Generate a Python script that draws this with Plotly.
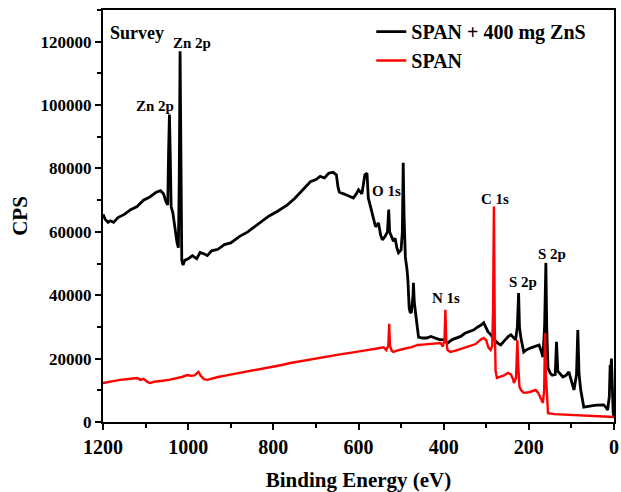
import plotly.graph_objects as go

# ---- data (binding energy in eV, intensity in CPS) ----
zns_be = [1200, 1195, 1188, 1183, 1175, 1165, 1150, 1135, 1120, 1105, 1090, 1075, 1065, 1058,
          1052, 1048, 1046, 1044, 1042, 1040, 1036, 1030, 1026, 1023, 1021, 1019, 1017, 1015,
          1012, 1008, 1000, 990, 980, 972, 962, 955, 945, 930, 915, 900, 880, 860, 847, 830,
          810, 790, 767, 750, 730, 713, 700, 690, 680, 670, 660, 652, 648, 645, 635, 625, 612,
          605, 600, 592, 585, 580, 577, 570, 560, 553, 548, 544, 538, 532, 529, 527, 523, 518,
          514, 510, 506, 500, 497, 495, 493, 490, 486, 484, 481, 479, 476, 472, 471, 469, 466,
          462, 459, 450, 440, 430, 420, 410, 400, 391, 380, 370, 360, 350, 340, 330, 320, 313,
          306, 300, 296, 289, 280, 273, 266, 255, 248, 242, 236, 231, 227, 224, 222, 219, 212,
          205, 195, 185, 176, 170, 167, 163, 160, 158, 155, 150, 145, 138, 135, 132, 128, 120,
          112, 106, 100, 94, 88, 85, 82, 78, 71, 60, 50, 40, 30, 24, 18, 15, 11, 9, 8, 6, 4, 2, 0]
zns_cps = [65500, 64000, 63000, 63500, 63000, 64500, 65500, 67000, 68000, 70000, 71000, 72500,
           73000, 72000, 69500, 68500, 85000, 97000, 84000, 68000, 66000, 60000, 56500, 55000,
           75800, 117000, 60000, 51000, 49500, 51000, 51500, 52500, 51500, 53500, 53000, 52500,
           54000, 54500, 56000, 56500, 58500, 60000, 61300, 63000, 65000, 66500, 68500, 70500,
           73500, 75800, 76500, 77500, 77000, 78500, 78800, 78000, 74000, 72500, 72000, 71500,
           70700, 72000, 73300, 72000, 78000, 78500, 70700, 67000, 61600, 62800, 59000, 57500,
           58500, 60000, 67000, 60000, 58400, 57000, 58000, 55000, 53400, 54300, 60000, 81800,
           65000, 52100, 48000, 44800, 36000, 34700, 34400, 40000, 43900, 38000, 34400, 30000,
           26800, 26500, 26500, 27000, 26500, 26000, 26000, 24900, 26000, 26500, 27000, 28000,
           28500, 29000, 30000, 30500, 31300, 29500, 28500, 27500, 25800, 24900, 24300, 26000,
           27000, 27500, 26500, 25900, 30000, 40700, 30000, 26800, 22100, 22800, 23400, 23800,
           24300, 22000, 20500, 30000, 50200, 30000, 17000, 15500, 14800, 15000, 25300, 16000,
           15500, 14200, 14800, 15800, 13000, 10100, 15000, 29000, 15000, 10000, 4700, 5000,
           5200, 5300, 5500, 5400, 4500, 3800, 8000, 18000, 15000, 20000, 10000, 3000, 1600]

span_be = [1200, 1190, 1175, 1160, 1145, 1130, 1120, 1112, 1105, 1095, 1089, 1080, 1070, 1060,
           1045, 1030, 1015, 1002, 995, 985, 980, 976, 970, 963, 955, 945, 930, 910, 890, 870,
           850, 830, 814, 800, 780, 760, 740, 720, 700, 680, 660, 640, 620, 602, 580, 560, 545,
           541, 535, 530, 528, 526, 522, 518, 510, 500, 490, 475, 461, 450, 440, 430, 420, 410,
           407, 402, 398, 396, 394, 391, 384, 370, 355, 340, 325, 313, 306, 300, 295, 290, 286,
           284, 282, 280, 278, 275, 266, 258, 249, 242, 237, 235, 230, 227, 225, 222, 218, 212,
           200, 190, 184, 178, 172, 167, 164, 162, 160, 157, 155, 140, 120, 100, 78, 50, 20, 0]
span_cps = [12300, 12600, 13000, 13300, 13500, 13800, 13900, 13300, 13600, 12600, 12300, 12700,
            12800, 13000, 13300, 13700, 14200, 14800, 14600, 14700, 15500, 15800, 14500, 13500,
            13300, 13700, 14200, 14700, 15200, 15600, 16200, 16700, 17100, 17400, 18000, 18600,
            19100, 19600, 20100, 20600, 21000, 21400, 21800, 22100, 22700, 23100, 23400, 23600,
            22700, 24000, 31000, 24000, 22500, 22100, 22500, 22900, 23200, 23600, 24300, 24400,
            24500, 24700, 24800, 25000, 24900, 23800, 26000, 35400, 26000, 22700, 22100, 22600,
            23200, 23800, 24600, 26000, 26500, 25800, 23500, 22700, 24000, 35000, 68000, 30000,
            16000, 13900, 14200, 14700, 15500, 15000, 13500, 12300, 14000, 25900, 18000, 11100,
            10000, 9200, 9400, 9800, 10100, 9200, 7500, 6000, 10000, 28100, 15000, 4000, 2800,
            2500, 2400, 2300, 2200, 2000, 1800, 1600]

series_names = ["SPAN + 400 mg ZnS", "SPAN"]
series_colors = ["#000000", "#ff0000"]

peak_labels = ["Survey", "Zn 2p", "Zn 2p", "O 1s", "C 1s", "N 1s", "S 2p", "S 2p"]
label_be = [1120, 991, 1078, 534, 280, 395, 214, 146]
label_cps = [122800, 119700, 99800, 72900, 70400, 39200, 44200, 53100]
label_sizes = [18, 15, 15, 15, 15, 15, 15, 15]

x_ticks = [1200, 1000, 800, 600, 400, 200, 0]
y_ticks = [0, 20000, 40000, 60000, 80000, 100000, 120000]

FONT = "Liberation Serif"

fig = go.Figure()
fig.add_trace(go.Scatter(x=zns_be, y=zns_cps, mode="lines", name=series_names[0],
                         line=dict(color=series_colors[0], width=2.8)))
fig.add_trace(go.Scatter(x=span_be, y=span_cps, mode="lines", name=series_names[1],
                         line=dict(color=series_colors[1], width=2.4)))

for t, xv, yv, s in zip(peak_labels, label_be, label_cps, label_sizes):
    fig.add_annotation(x=xv, y=yv, text=t, showarrow=False, xanchor="center", yanchor="middle",
                       font=dict(family=FONT, size=s, color="black", weight="bold"))

axis_common = dict(showline=True, linecolor="black", linewidth=2, mirror=True,
                   ticks="outside", ticklen=6, tickwidth=2, tickcolor="black",
                   showgrid=False, zeroline=False, automargin=False)

fig.update_xaxes(range=[1200, 0], tickvals=x_ticks, ticktext=[str(v) for v in x_ticks],
                 tickfont=dict(family=FONT, size=20, color="black", weight="bold"),
                 minor=dict(ticks="outside", ticklen=4, tickwidth=2, tickcolor="black", dtick=100),
                 title=dict(text="Binding Energy (eV)", standoff=17,
                            font=dict(family=FONT, size=21, color="black", weight="bold")),
                 **axis_common)
fig.update_yaxes(range=[0, 130000], tickvals=y_ticks, ticktext=[str(v) for v in y_ticks],
                 tickfont=dict(family=FONT, size=17, color="black", weight="bold"),
                 minor=dict(ticks="outside", ticklen=4, tickwidth=2, tickcolor="black", dtick=10000),
                 title=dict(text="CPS", standoff=7,
                            font=dict(family=FONT, size=21, color="black", weight="bold")),
                 **axis_common)

fig.update_layout(
    width=621, height=492,
    margin=dict(l=103, r=7, t=10, b=70),
    paper_bgcolor="white", plot_bgcolor="white",
    showlegend=True,
    legend=dict(x=0.525, y=0.995, xanchor="left", yanchor="top", bgcolor="rgba(0,0,0,0)",
                font=dict(family=FONT, size=20, color="black", weight="bold"),
                itemclick=False),
)

fig.write_html("out.html")
